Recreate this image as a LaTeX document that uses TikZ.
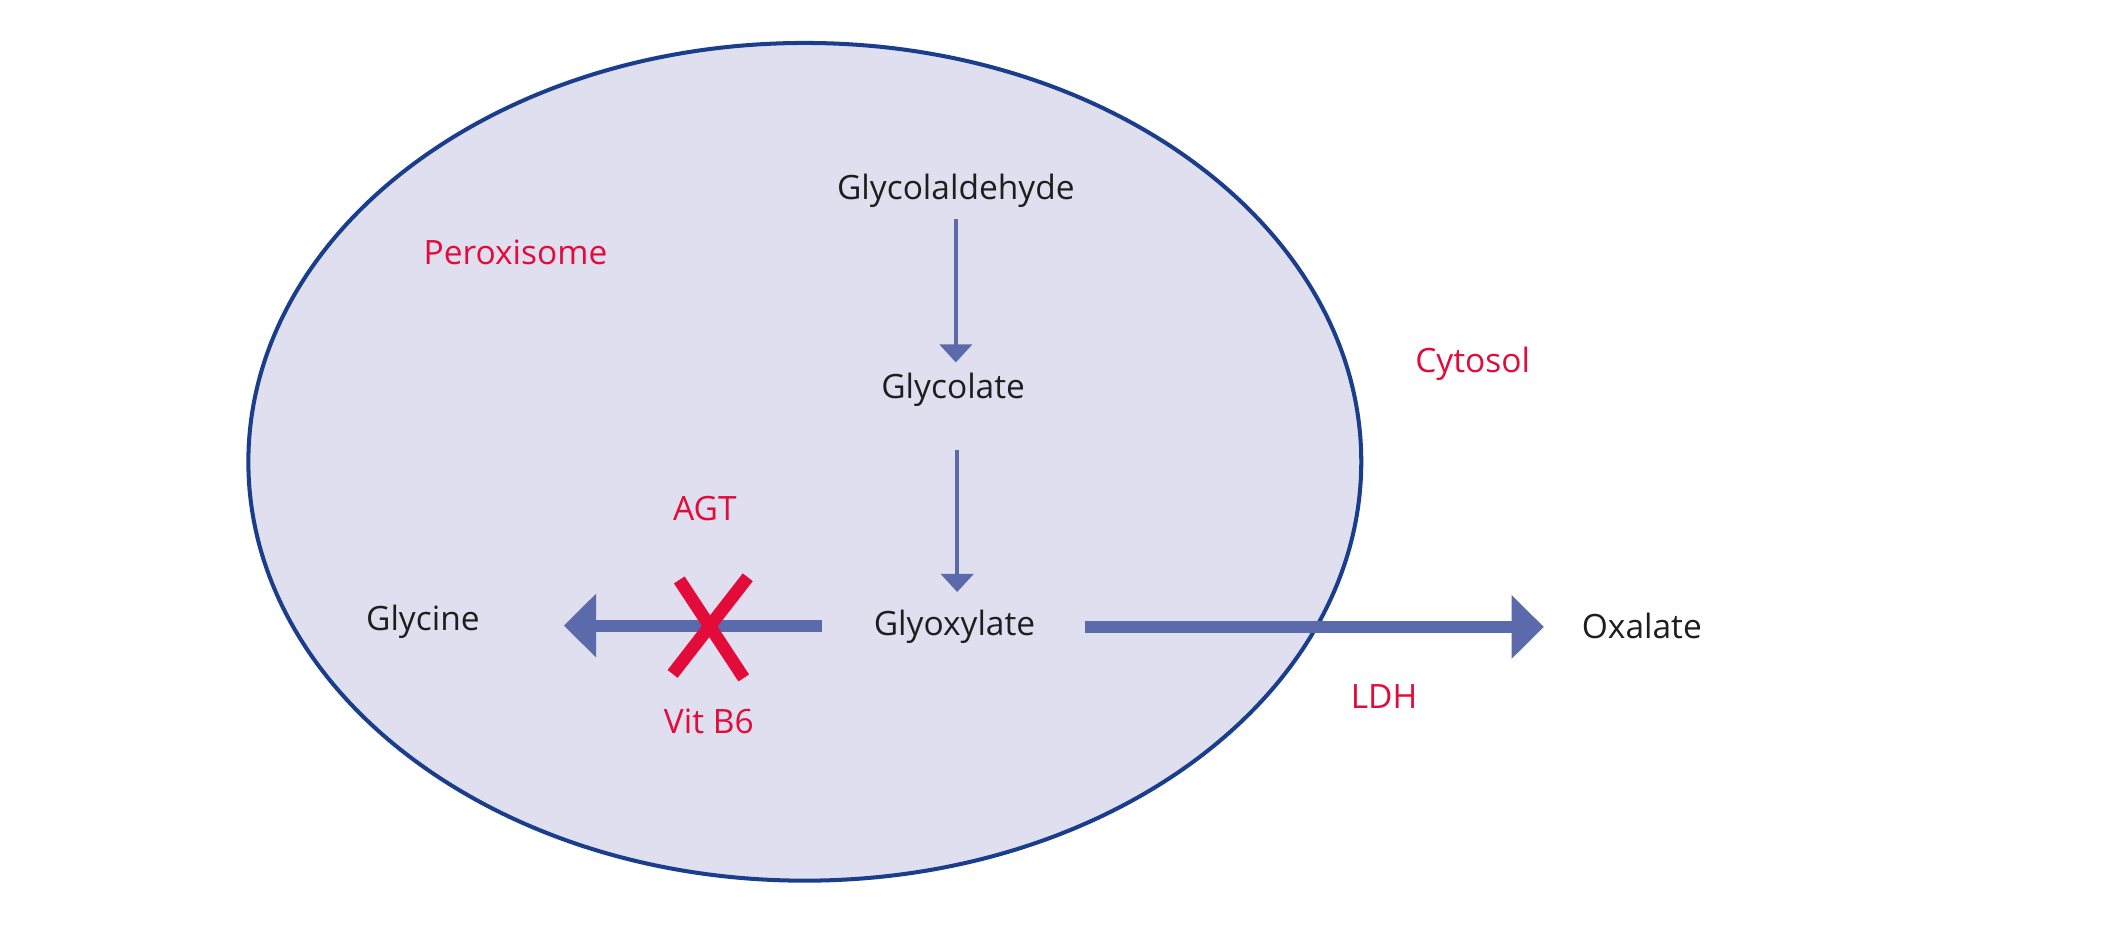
\documentclass[tikz,border=0pt]{standalone}
\usepackage{fontspec}
\setmainfont{Open Sans}
\usetikzlibrary{arrows.meta,calc}
\definecolor{cellfill}{HTML}{E0DFEF}
\definecolor{cellline}{HTML}{1A3E8C}
\definecolor{arrowblue}{HTML}{5B6AAB}
\definecolor{labred}{HTML}{E30B3A}
\definecolor{txt}{HTML}{1E1E1E}
\tikzset{
  mol/.style={inner sep=0pt, text=txt, font=\fontsize{14.2}{17}\selectfont},
  lab/.style={inner sep=0pt, text=labred, font=\fontsize{14.2}{17}\selectfont},
  thinarrow/.style={draw=arrowblue, line width=0.06cm, -{Triangle[width=0.48cm,length=0.27cm]}, arrowblue},
  thickarrow/.style={draw=arrowblue, line width=0.18cm, -{Triangle[width=0.92cm,length=0.48cm]}, arrowblue},
  crossline/.style={draw=labred, line width=0.19cm}
}
\begin{document}
\begin{tikzpicture}[x=0.02cm,y=-0.02cm]
\useasboundingbox (0,0) rectangle (1568,690.5);
\fill[white] (0,0) rectangle (1568,690.5);
\draw[fill=cellfill, draw=cellline, line width=0.06cm] (599.5,344) ellipse [x radius=414.5, y radius=312];

\node[mol] (gald) at (712,142) {Glycolaldehyde};
\node[mol] (glat) at (710,290) {Glycolate};
\node[mol] (glox) at (711,467) {Glyoxylate};
\node[mol] (glyc) at (315,463) {Glycine};
\node[mol] (oxal) at (1223,466) {Oxalate};

\node[lab] (perox) at (384,188) {Peroxisome};
\node[lab] (cyto) at (1097,271) {Cytosol};
\node[lab] (agt) at (525,379) {AGT};
\node[lab] (vitb) at (528,537) {Vit B6};
\node[lab] (ldh) at (1031,519) {LDH};

\draw[thinarrow] ($(gald)+(0,21)$) -- ($(glat)+(2,-20)$);
\draw[thinarrow] ($(glat)+(3,45)$) -- ($(glox)+(2,-26)$);
\draw[thickarrow] ($(glox)+(-99,-1)$) -- ($(glyc)+(105,3)$);
\draw[thickarrow] ($(glox)+(97,0)$) -- ($(oxal)+(-73,1)$);

\coordinate (xa) at (506,432);
\coordinate (xb) at (554,505);
\coordinate (xc) at (557,430);
\coordinate (xd) at (501,502);
\draw[crossline] (xa) -- (xb);
\draw[crossline] (xc) -- (xd);
\end{tikzpicture}
\end{document}
